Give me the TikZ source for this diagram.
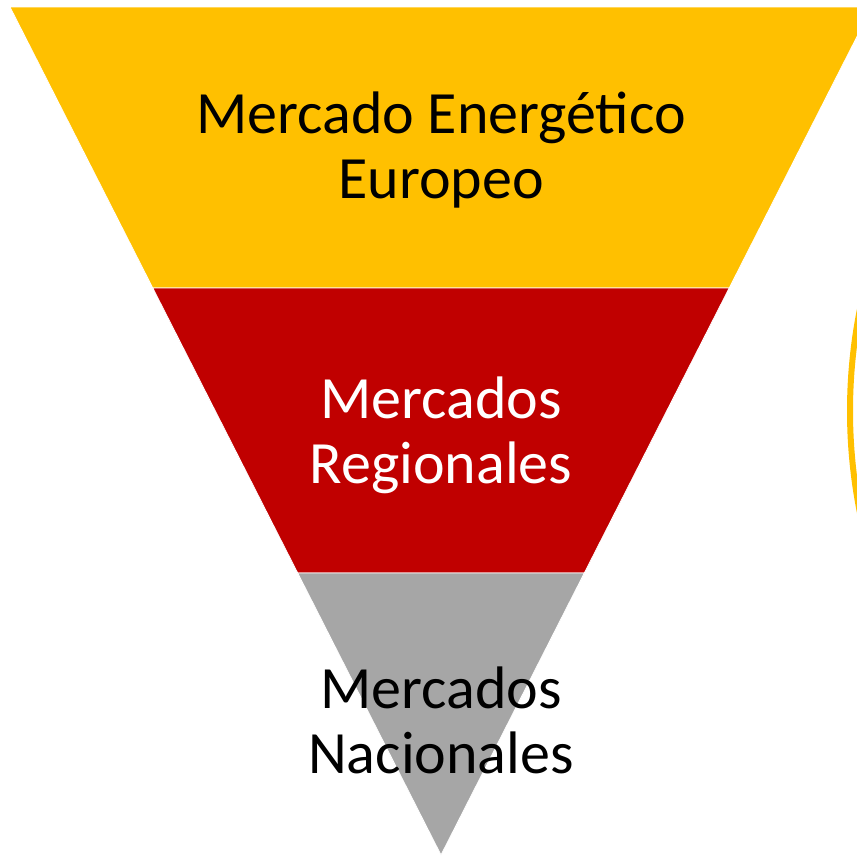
\documentclass[tikz,border=0pt]{standalone}
\usepackage{fontspec}
\setmainfont{Carlito}
\definecolor{amarillo}{HTML}{FFC000}
\definecolor{rojo}{HTML}{C00000}
\definecolor{gris}{HTML}{A6A6A6}

\begin{document}
\begin{tikzpicture}[x=1pt,y=1pt]
		\tikzstyle{nivel}=[draw=white, line width=0.8pt]
		\tikzstyle{rotulo}=[align=center, inner sep=0pt, font=\fontsize{60}{65}\selectfont]
		\useasboundingbox (0,0) rectangle (857,-857);
		\clip (0,0) rectangle (857,-857);
		% capas del embudo
		\fill [amarillo, nivel] (10,-7) -- (872,-7) -- (729.2,-288) -- (152.8,-288) -- cycle;
		\fill [rojo, nivel] (152.8,-288) -- (729.2,-288) -- (584.3,-573) -- (297.7,-573) -- cycle;
		\fill [gris, nivel] (297.7,-573) -- (584.3,-573) -- (441,-855) -- cycle;
		% textos
		\node [rotulo, text=black] (europeo) at (441,-150) {Mercado Energético\\Europeo};
		\node [rotulo, text=white] (regional) at (441,-435) {Mercados\\Regionales};
		\node [rotulo, text=black] (nacional) at (441,-720) {Mercados\\Nacionales};
		% arco lateral
		\draw [amarillo, line width=6pt] (1370,-411) circle (520);
	\end{tikzpicture}
\end{document}
